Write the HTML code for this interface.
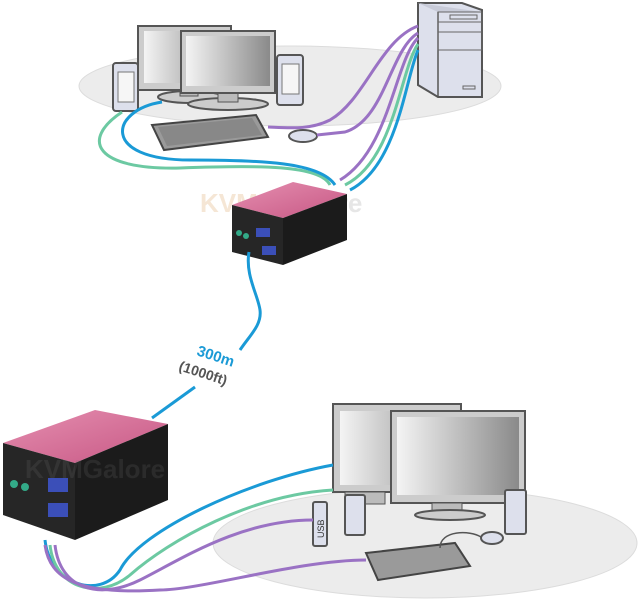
<!DOCTYPE html>
<html><head><meta charset="utf-8"><style>
html,body{margin:0;padding:0;background:#fff;width:641px;height:600px;overflow:hidden}
svg{display:block}
</style></head><body>
<svg width="641" height="600" viewBox="0 0 641 600" xmlns="http://www.w3.org/2000/svg" font-family="Liberation Sans, sans-serif">
<defs>
<linearGradient id="scr" x1="0" y1="0" x2="1" y2="0"><stop offset="0" stop-color="#f4f4f4"/><stop offset="1" stop-color="#8a8a8a"/></linearGradient>
<linearGradient id="pink" x1="0" y1="0" x2="1" y2="1"><stop offset="0" stop-color="#e58fb0"/><stop offset="1" stop-color="#c75784"/></linearGradient>
</defs>
<!-- top ellipse -->
<ellipse cx="290" cy="86" rx="211" ry="40" fill="#ececec" stroke="#dcdcdc"/>
<!-- tower -->
<polygon points="418,3 462,3 482,10 482,97 438,97 418,85" fill="#dde0ec" stroke="#555" stroke-width="2"/>
<line x1="438" y1="12" x2="438" y2="97" stroke="#555" stroke-width="1.5"/>
<polygon points="418,3 438,12 482,12" fill="#c8cbd8"/>
<rect x="438" y="12" width="44" height="10" fill="none" stroke="#666"/>
<rect x="438" y="22" width="44" height="10" fill="none" stroke="#666"/>
<rect x="438" y="32" width="44" height="18" fill="none" stroke="#666"/>
<rect x="450" y="15" width="27" height="4" fill="none" stroke="#666"/>
<rect x="463" y="86" width="12" height="3" fill="none" stroke="#666"/>
<!-- speakers -->
<rect x="113" y="63" width="25" height="48" rx="3" fill="#dde0ec" stroke="#555" stroke-width="2"/>
<rect x="118" y="72" width="16" height="30" fill="#f6f6f6" stroke="#777"/>
<rect x="277" y="55" width="26" height="50" rx="3" fill="#dde0ec" stroke="#555" stroke-width="2"/>
<rect x="282" y="64" width="17" height="30" fill="#f6f6f6" stroke="#777"/>
<!-- back monitor -->
<ellipse cx="190" cy="97" rx="32" ry="6" fill="#ccc" stroke="#555" stroke-width="2"/>
<rect x="180" y="84" width="18" height="12" fill="#bbb" stroke="#555"/>
<rect x="138" y="26" width="93" height="64" fill="#ccc" stroke="#555" stroke-width="2"/>
<rect x="144" y="31" width="80" height="52" fill="url(#scr)"/>
<!-- front monitor -->
<ellipse cx="228" cy="104" rx="40" ry="6" fill="#ccc" stroke="#555" stroke-width="2"/>
<rect x="218" y="88" width="20" height="14" fill="#bbb" stroke="#555"/>
<rect x="181" y="31" width="94" height="62" fill="#ccc" stroke="#555" stroke-width="2"/>
<rect x="186" y="36" width="84" height="50" fill="url(#scr)"/>
<!-- keyboard -->
<polygon points="152,125 256,115 268,137 164,150" fill="#9a9a9a" stroke="#444" stroke-width="2"/>
<polygon points="158,127 252,118 262,135 167,146" fill="#888"/>
<ellipse cx="303" cy="136" rx="14" ry="6" fill="#dde0ec" stroke="#555" stroke-width="2"/>
<!-- top cables -->
<g fill="none" stroke-width="3">
<path d="M418,26 C380,40 365,100 330,120 C310,130 290,128 268,127" stroke="#9a72c4"/>
<path d="M418,33 C390,50 385,120 345,132 L317,135" stroke="#9a72c4"/>
<path d="M418,38 C395,60 390,150 340,180" stroke="#9a72c4"/>
<path d="M418,44 C400,70 395,160 345,185" stroke="#6cc9a2"/>
<path d="M418,50 C405,80 398,165 350,190" stroke="#1a9ad6"/>
<path d="M122,112 C80,140 95,170 180,168 C260,165 320,165 330,185" stroke="#6cc9a2"/>
<path d="M162,102 C110,110 100,160 190,160 C260,160 320,162 335,185" stroke="#1a9ad6"/>
</g>
<!-- watermark -->
<text x="200" y="212" font-size="26" font-weight="bold" fill="#f2dcc4" opacity="0.7">KVM</text>
<text x="280" y="212" font-size="26" font-weight="bold" fill="#e6e6e6">Galore</text>
<!-- top extender -->
<polygon points="232,205 293,182 347,194 283,218" fill="url(#pink)"/>
<polygon points="232,205 283,218 283,265 232,252" fill="#262626"/>
<polygon points="283,218 347,194 347,240 283,265" fill="#1b1b1b"/>
<rect x="256" y="228" width="14" height="9" fill="#3b4fb8"/>
<rect x="262" y="246" width="14" height="9" fill="#3b4fb8"/>
<circle cx="239" cy="233" r="3" fill="#3a8"/><circle cx="246" cy="236" r="3" fill="#3a8"/>
<!-- link cable -->
<g fill="none" stroke="#1a9ad6" stroke-width="3">
<path d="M249,252 C245,275 258,295 260,310 C262,325 250,335 240,350"/>
<path d="M195,387 L152,418"/>
</g>
<text x="0" y="0" font-size="15" font-weight="bold" fill="#1a9ad6" transform="translate(196,355) rotate(18)">300m</text>
<text x="0" y="0" font-size="14" font-weight="bold" fill="#555" transform="translate(178,370) rotate(18)">(1000ft)</text>
<!-- bottom ellipse -->
<ellipse cx="425" cy="543" rx="212" ry="55" fill="#ececec" stroke="#dcdcdc"/>
<!-- bottom extender -->
<polygon points="3,443 95,410 168,424 75,463" fill="url(#pink)"/>
<polygon points="3,443 75,463 75,540 3,515" fill="#262626"/>
<polygon points="75,463 168,424 168,500 75,540" fill="#1b1b1b"/>
<rect x="48" y="478" width="20" height="14" fill="#3b4fb8"/>
<rect x="48" y="503" width="20" height="14" fill="#3b4fb8"/>
<circle cx="14" cy="484" r="4" fill="#3a8"/><circle cx="25" cy="487" r="4" fill="#3a8"/>
<text x="25" y="478" font-size="26" font-weight="bold" fill="#777" opacity="0.18">KVMGalore</text>
<!-- bottom monitors -->
<rect x="333" y="404" width="128" height="88" fill="#ccc" stroke="#555" stroke-width="2"/>
<rect x="340" y="411" width="114" height="74" fill="url(#scr)"/>
<rect x="345" y="492" width="40" height="12" fill="#bbb" stroke="#555"/>
<rect x="391" y="411" width="134" height="92" fill="#ccc" stroke="#555" stroke-width="2"/>
<rect x="397" y="417" width="122" height="78" fill="url(#scr)"/>
<rect x="432" y="503" width="30" height="10" fill="#bbb" stroke="#555"/>
<ellipse cx="450" cy="515" rx="35" ry="5" fill="#ccc" stroke="#555" stroke-width="2"/>
<!-- speakers, usb -->
<rect x="345" y="495" width="20" height="40" rx="2" fill="#dde0ec" stroke="#555" stroke-width="2"/>
<rect x="505" y="490" width="21" height="44" rx="2" fill="#dde0ec" stroke="#555" stroke-width="2"/>
<rect x="313" y="502" width="14" height="44" rx="2" fill="#dde0ec" stroke="#555" stroke-width="2"/>
<text x="0" y="0" font-size="9" fill="#333" transform="translate(324,538) rotate(-90)">USB</text>
<!-- keyboard & mouse -->
<polygon points="366,553 455,543 470,566 378,580" fill="#9a9a9a" stroke="#444" stroke-width="2"/>
<ellipse cx="492" cy="538" rx="11" ry="6" fill="#dde0ec" stroke="#555" stroke-width="2"/>
<path d="M440,548 C440,530 470,530 481,537" fill="none" stroke="#555" stroke-width="1.5"/>
<!-- bottom cables -->
<g fill="none" stroke-width="3">
<path d="M333,465 C250,480 140,530 120,570 C100,600 50,585 45,540" stroke="#1a9ad6"/>
<path d="M333,490 C250,495 170,540 130,575 C100,600 55,590 50,545" stroke="#6cc9a2"/>
<path d="M313,520 C240,520 180,560 140,580 C100,600 60,590 55,545" stroke="#9a72c4"/>
<path d="M366,560 C300,560 200,590 160,590 C80,595 50,580 45,545" stroke="#9a72c4"/>
</g>
</svg>
</body></html>
